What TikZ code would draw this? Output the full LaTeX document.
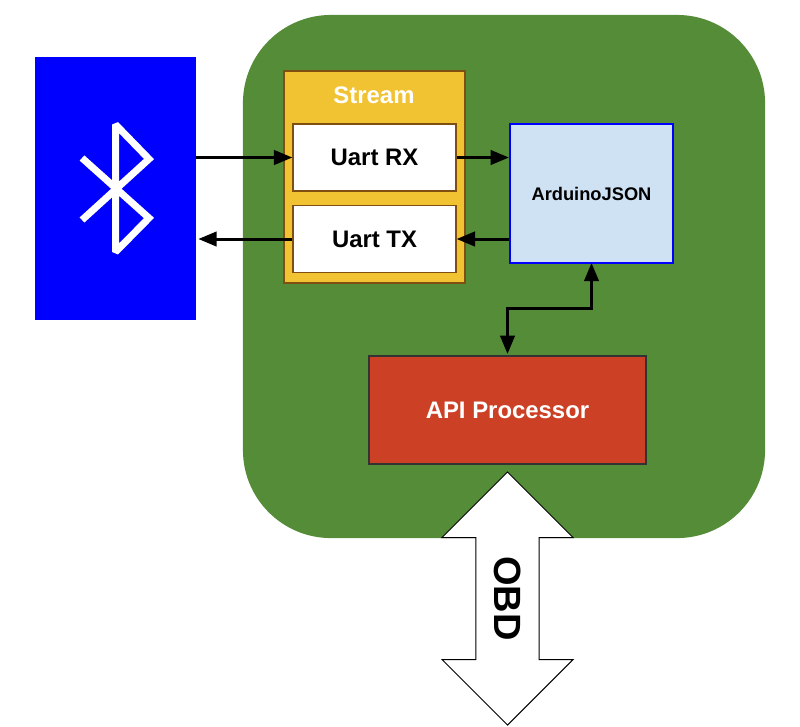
\documentclass[tikz,border=0pt]{standalone}
\usepackage{fontspec}
\setmainfont{Liberation Sans}
\usepackage{xcolor}
\usetikzlibrary{arrows.meta}
\usetikzlibrary{shapes.arrows}

\definecolor{boardgreen}{HTML}{548C38}
\definecolor{streamyellow}{HTML}{F1C232}
\definecolor{streamborder}{HTML}{7F4F12}
\definecolor{jsonblue}{HTML}{CFE2F3}
\definecolor{apired}{HTML}{CC4125}

\begin{document}
\begin{tikzpicture}[
    x=0.025cm,
    y=-0.025cm,
    every node/.style = {
      shape=rectangle,
      align=center,
      inner sep=0pt,
      font=\bfseries\fontsize{17}{20}\selectfont
    },
    uartbox/.style = {
      draw=streamborder,
      fill=white,
      line width=0.03cm,
      minimum width=4.075cm,
      minimum height=1.675cm
    },
    arrow/.style = {
      -{Stealth[length=0.46cm,width=0.36cm,inset=0pt]},
      line width=0.075cm
    },
    bothways/.style = {
      {Stealth[length=0.46cm,width=0.36cm,inset=0pt]}-{Stealth[length=0.46cm,width=0.36cm,inset=0pt]},
      line width=0.075cm,
      shorten >=0.03cm,
      shorten <=-0.03cm
    }
  ]

    \useasboundingbox (0,0) rectangle (800,726);

    % Green board
    \node (board) at (504,276.5) [fill=boardgreen, rounded corners=2.2cm,
      minimum width=13.05cm, minimum height=13.075cm] {};

    % Bluetooth box with its symbol
    \node (bluetooth) at (115.5,188.5) [fill=blue,
      minimum width=4.025cm, minimum height=6.575cm] {};
    \draw[white, line width=0.175cm, miter limit=2]
      (82,158) -- (149,218) -- (115.5,252) -- (115.5,124.5) -- (149,159) -- (82,220);

    % Stream and its two ports
    \node (stream) at (374.5,177) [draw=streamborder, fill=streamyellow,
      line width=0.04cm, minimum width=4.525cm, minimum height=5.3cm] {};
    \node (streamlabel) at (374,95) [white] {Stream};
    \node[uartbox] (uartrx) at (374.5,157.5) {Uart RX};
    \node[uartbox] (uarttx) at (374.5,239) {Uart TX};

    % Parser and processor
    \node (json) at (591.5,193.5) [draw=blue, fill=jsonblue, line width=0.05cm,
      minimum width=4.075cm, minimum height=3.475cm,
      font=\bfseries\fontsize{13}{16}\selectfont] {ArduinoJSON};
    \node (api) at (507.5,410) [draw=black!80, fill=apired, text=white,
      line width=0.04cm, minimum width=6.925cm, minimum height=2.7cm] {API Processor};

    % OBD double arrow
    \node (obd) at (507.5,598.5) [double arrow, rotate=-90, draw=black, fill=white,
      line width=0.025cm, double arrow tip angle=90,
      double arrow head extend=0.8125cm, double arrow head indent=0cm,
      inner ysep=0.4125cm,
      minimum width=3.275cm, minimum height=6.325cm,
      font=\bfseries\fontsize{27}{30}\selectfont] {OBD};

    \coordinate (bend) at (549,308);

    % Arrows
    \draw[arrow] (bluetooth.east |- uartrx.west) -- (uartrx.west);
    \draw[arrow] (uarttx.west) -- ([xshift=0.05cm]bluetooth.east |- uarttx.west);
    \draw[arrow] (uartrx.east) -- (uartrx.east -| json.west);
    \draw[arrow] (json.west |- uarttx.east) -- (uarttx.east);
    \draw[bothways] (json.south) |- (bend) -| (api.north);

  \end{tikzpicture}
\end{document}
